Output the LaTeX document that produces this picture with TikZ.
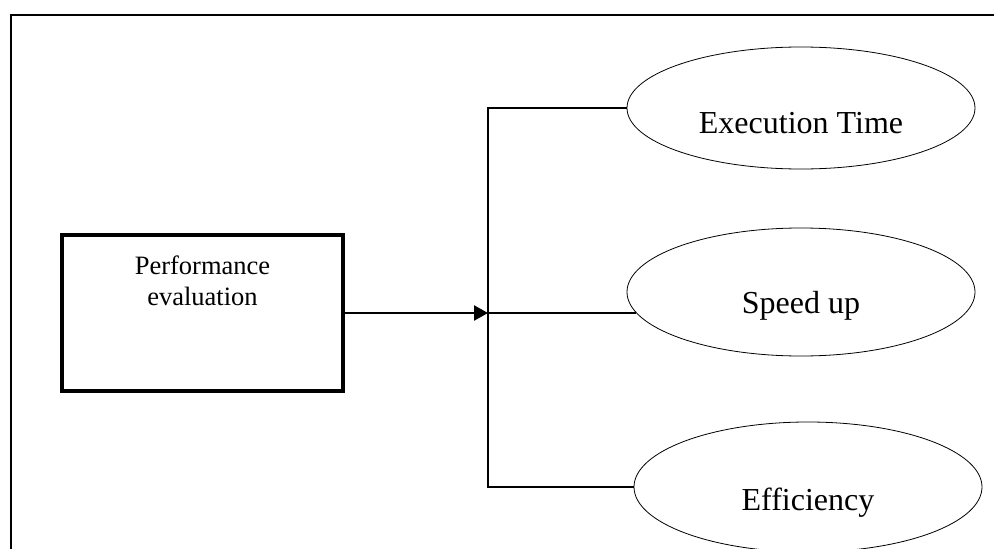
\documentclass[tikz,border=0pt]{standalone}
\usepackage{fontspec}
\setmainfont{Liberation Serif}
\usetikzlibrary{shapes.geometric,arrows.meta}
\begin{document}
\begin{tikzpicture}[x=1pt,y=-1pt,
  frame/.style={draw,line width=2.5pt},
  procbox/.style={draw,line width=3.5pt,minimum width=281pt,minimum height=156pt,inner sep=0pt},
  bubble/.style={draw,ellipse,line width=0.8pt,minimum width=348pt,minimum height=122pt,inner sep=0pt},
  btext/.style={font=\fontsize{32}{38}\selectfont,anchor=base,inner sep=0pt},
  conn/.style={line width=1.8pt},
  mainarrow/.style={line width=2.6pt,-{Triangle[length=14pt,width=15pt]}}]
\clip (0,0) rectangle (994,549);
\fill[white] (0,0) rectangle (994,549);
\draw[frame] (11,15) rectangle (1020,580);
\node[procbox] (perf) at (202.5,313) {};
\node[font=\fontsize{26.5}{31}\selectfont,align=center,anchor=base,inner sep=0pt] (perft) at (202.5,305) {Performance\\evaluation};
\node[bubble] (e1) at (801,108) {};
\node[btext] (e1t) at ([yshift=-25pt]e1.center) {Execution Time};
\node[bubble,minimum height=128pt] (e2) at (801,292) {};
\node[btext] (e2t) at ([yshift=-21pt]e2.center) {Speed up};
\node[bubble,minimum height=130pt] (e3) at (808,487) {};
\node[btext] (e3t) at ([yshift=-23pt]e3.center) {Efficiency};
\coordinate (J) at (488,313);
\draw[mainarrow] (perf.east) -- (J);
\draw[conn] (J) |- (e1.west);
\draw[conn] (J) |- (e3.west);
\draw[conn] (J) -- (J -| e2.187);
\end{tikzpicture}
\end{document}
